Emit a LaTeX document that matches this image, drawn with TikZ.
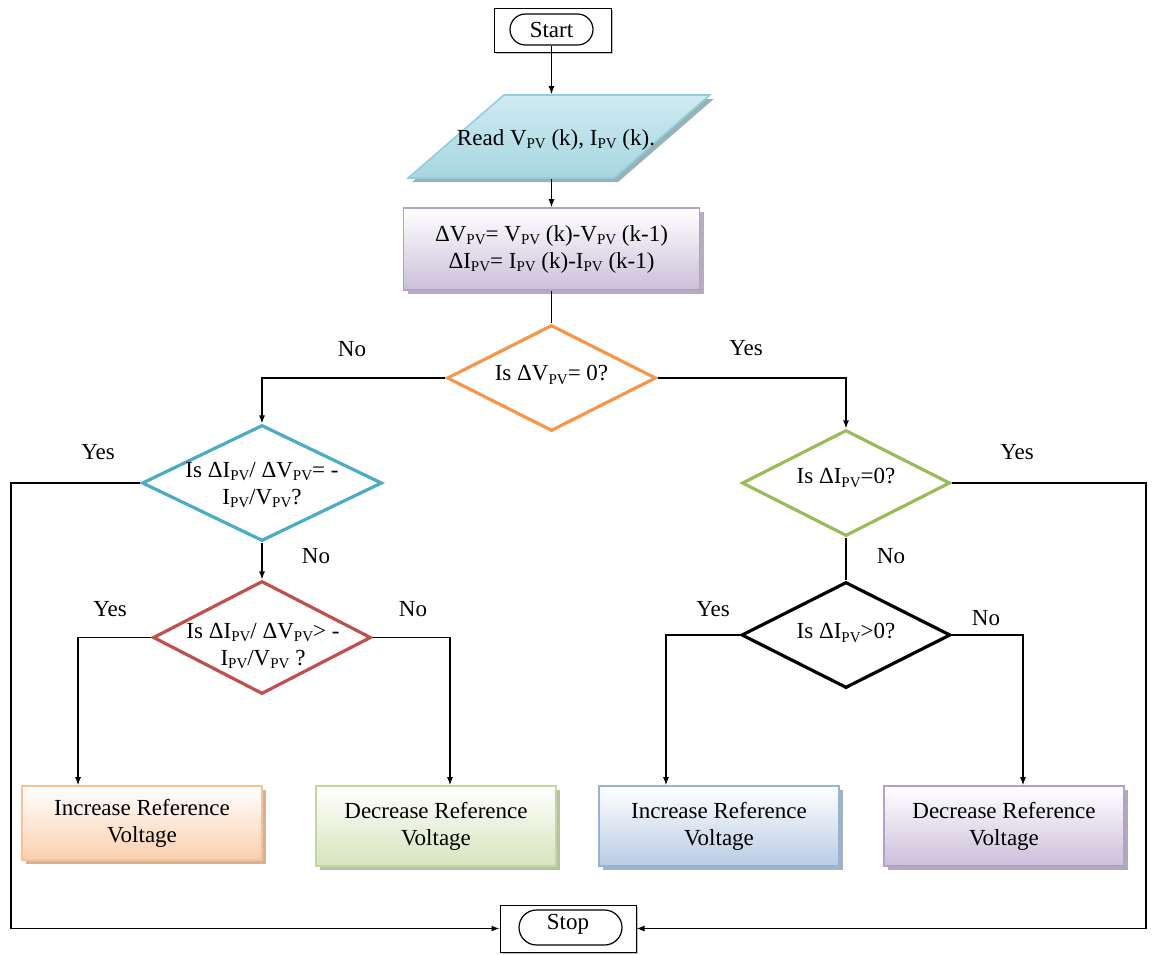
\documentclass[tikz,border=0pt]{standalone}
\usepackage{fontspec}
\setmainfont{Liberation Serif}
\usepackage{tikz}
\usetikzlibrary{shapes.geometric, shapes.misc, arrows.meta, shadows}
\definecolor{readtop}{HTML}{CFEBF2}
\definecolor{readbot}{HTML}{A6D6E1}
\definecolor{readline}{HTML}{93CDDD}
\definecolor{purbot}{HTML}{CBBFDA}
\definecolor{purline}{HTML}{B3A2C7}
\definecolor{orgbot}{HTML}{FBCFAC}
\definecolor{orgline}{HTML}{FAC090}
\definecolor{grnbot}{HTML}{D6E3BC}
\definecolor{grnline}{HTML}{C3D69B}
\definecolor{blubot}{HTML}{B8CCE4}
\definecolor{bluline}{HTML}{95B3D7}
\definecolor{dorange}{HTML}{F79646}
\definecolor{dblue}{HTML}{4BACC6}
\definecolor{dred}{HTML}{C0504D}
\definecolor{dgreen}{HTML}{9BBB59}
\newcommand{\subPV}{\raisebox{-0.3ex}{\fontsize{7.5}{8}\selectfont PV}}

\begin{document}
\begin{tikzpicture}[x=0.5pt, y=-0.5pt,
    every node/.style={font=\fontsize{11.5}{13.5}\selectfont},
    frame/.style={rectangle, draw, line width=0.5pt, fill=white, drop shadow={shadow xshift=1pt, shadow yshift=-1pt, fill=black!25, opacity=1}},
    terminal/.style={rounded rectangle, draw, line width=0.6pt, inner sep=0pt},
    decision/.style={diamond, draw, line width=1.6pt, inner sep=0pt, fill=white},
    action/.style={rectangle, line width=0.8pt, minimum width=120pt, minimum height=40pt, align=center, drop shadow={shadow xshift=2pt, shadow yshift=-2pt, fill=#1, opacity=1}},
    arrow/.style={->, >={Latex[length=4pt,width=3pt]}, line width=0.6pt},
    line/.style={line width=0.6pt}
]
\path[use as bounding box, fill=white] (0,0) rectangle (1152,954);

% Start
\node[frame, minimum width=58.5pt, minimum height=22pt] (start) at (552.5,30) {};
\node[terminal, minimum width=41.5pt, minimum height=15.5pt] (startin) at (551.5,29.5) {Start};

% Input and calculation
\node[trapezium, trapezium left angle=49, trapezium right angle=131, trapezium stretches=true,
      minimum width=151pt, minimum height=41.5pt, draw=readline, line width=0.8pt,
      top color=readtop, bottom color=readbot,
      drop shadow={shadow xshift=2pt, shadow yshift=-2pt, fill=readbot!60!gray, opacity=1}] (read) at (559,136.5) {};
\node (readtxt) at (556,140) {Read V\subPV{} (k), I\subPV{} (k).};
\node[action=purbot!70!gray, draw=purline, top color=white, bottom color=purbot,
      minimum width=148pt, minimum height=41pt] (calc) at (551.5,249)
      {ΔV\subPV{}= V\subPV{} (k)-V\subPV{} (k-1)\\ΔI\subPV{}= I\subPV{} (k)-I\subPV{} (k-1)};

% Decisions
\node[decision, draw=dorange, minimum width=104.5pt, minimum height=53pt] (d1) at (551.5,378) {};
\node (t1) at (551.5,375) {Is ΔV\subPV{}= 0?};
\node[decision, draw=dblue, minimum width=120pt, minimum height=58pt] (d2) at (262,483) {};
\node[align=center] (t2) at (262,485) {Is ΔI\subPV{}/ ΔV\subPV{}= -\\I\subPV{}/V\subPV{}?};
\node[decision, draw=dred, minimum width=109pt, minimum height=56.5pt] (d4) at (262,637.5) {};
\node[align=center] (t4) at (263,646) {Is ΔI\subPV{}/ ΔV\subPV{}> -\\I\subPV{}/V\subPV{} ?};
\node[decision, draw=dgreen, minimum width=104pt, minimum height=53pt] (d3) at (846,483) {};
\node (t3) at (846,478) {Is ΔI\subPV{}=0?};
\node[decision, draw=black, minimum width=104.5pt, minimum height=53pt] (d5) at (846,635) {};
\node (t5) at (846,633) {Is ΔI\subPV{}>0?};

% Actions
\node[action=orgbot!65!gray, draw=orgline, top color=white, bottom color=orgbot, minimum height=37pt] (inc1) at (142,823) {Increase Reference\\Voltage};
\node[action=grnbot!65!gray, draw=grnline, top color=white, bottom color=grnbot] (dec1) at (436,826) {Decrease Reference\\Voltage};
\node[action=blubot!65!gray, draw=bluline, top color=white, bottom color=blubot] (inc2) at (719,826) {Increase Reference\\Voltage};
\node[action=purbot!65!gray, draw=purline, top color=white, bottom color=purbot] (dec2) at (1004,826) {Decrease Reference\\Voltage};

% Stop
\node[frame, minimum width=68pt, minimum height=23.5pt] (stop) at (568,928.5) {};
\node[terminal, minimum width=51.5pt, minimum height=17.5pt] (stopin) at (570.5,927.5) {};
\node (stoptxt) at (568,924) {Stop};

% Branch labels
\node (no1) at (352,349) {No};
\node (yes1) at (746,348) {Yes};
\node (yes2) at (98,452) {Yes};
\node (no2) at (316,556) {No};
\node (yes4) at (110,609) {Yes};
\node (no4) at (413,609) {No};
\node (yes3) at (1017,452) {Yes};
\node (no3) at (891,556) {No};
\node (yes5) at (713,609) {Yes};
\node (no5) at (986,618) {No};

\coordinate (lft) at (11,928.5);
\coordinate (rgt) at (1146,928.5);

% Connectors
\draw[arrow] (startin.south) -- (startin.south |- read.north);
\draw[arrow] (read.south -| calc.north) -- (calc.north);
\draw[line] (calc.south) -- (d1.north);
\draw[arrow] (d1.west) -| (d2.north);
\draw[arrow] (d1.east) -| (d3.north);
\draw[arrow] (d2.west) -| (lft) -- (stop.west);
\draw[arrow] (d2.south) -- (d4.north);
\draw[arrow] (d4.west) -| ([xshift=-32pt]inc1.north);
\draw[arrow] (d4.east) -| ([xshift=7pt]dec1.north);
\draw[arrow] (d3.east) -| (rgt) -- (stop.east);
\draw[line] (d3.south) -- (d5.north);
\draw[arrow] (d5.west) -| ([xshift=-26.5pt]inc2.north);
\draw[arrow] (d5.east) -| ([xshift=9.5pt]dec2.north);

\end{tikzpicture}
\end{document}
